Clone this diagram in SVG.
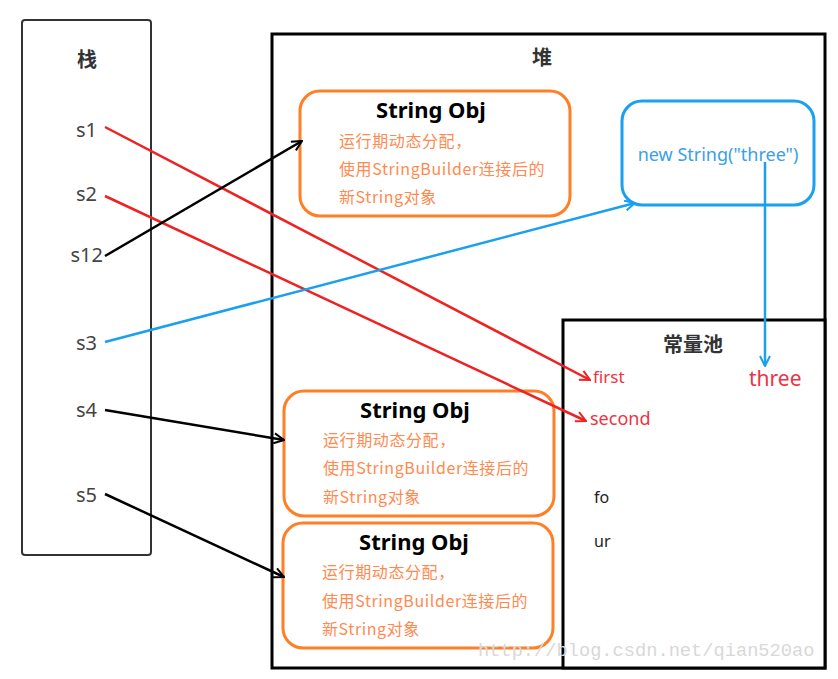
<svg xmlns="http://www.w3.org/2000/svg" width="838" height="679" viewBox="0 0 838 679">
<defs>
<style>
.lbl{font-family:"Noto Sans","Noto Sans CJK SC",sans-serif}
.title{font-family:"Noto Sans CJK SC","Noto Sans",sans-serif;font-weight:bold;font-size:20px;fill:#333;text-anchor:middle}
.var{font-family:"Noto Sans",sans-serif;font-size:20px;fill:#444;text-anchor:end}
.obj{fill:#fff;stroke:#ff7f27;stroke-width:3}
.objt{font-family:"Noto Sans",sans-serif;font-weight:bold;font-size:22px;fill:#000;text-anchor:middle}
.objd{font-family:"Noto Sans CJK SC","Noto Sans",sans-serif;font-size:16px;letter-spacing:0.6px;fill:#ff8a50}
.red{stroke:#ee2222;stroke-width:2.5;fill:none}
.blk{stroke:#000;stroke-width:2.5;fill:none}
.blu{stroke:#1aa0ee;stroke-width:2.5;fill:none}
</style>
<marker id="mr" viewBox="0 0 12 12" refX="11" refY="6" markerWidth="12" markerHeight="12" orient="auto" markerUnits="userSpaceOnUse">
<path d="M1,1 L11,6 L1,11" fill="none" stroke="#ee2222" stroke-width="2"/>
</marker>
<marker id="mk" viewBox="0 0 12 12" refX="11" refY="6" markerWidth="12" markerHeight="12" orient="auto" markerUnits="userSpaceOnUse">
<path d="M1,1 L11,6 L1,11" fill="none" stroke="#000" stroke-width="2"/>
</marker>
<marker id="mb" viewBox="0 0 12 12" refX="11" refY="6" markerWidth="12" markerHeight="12" orient="auto" markerUnits="userSpaceOnUse">
<path d="M1,1 L11,6 L1,11" fill="none" stroke="#1aa0ee" stroke-width="2"/>
</marker>
</defs>
<rect width="838" height="679" fill="#fff"/>

<g id="stack">
<rect x="22" y="20" width="129" height="535" rx="3" fill="#fff" stroke="#333" stroke-width="2"/>
<text class="title" x="87" y="67">栈</text>
<text class="var" x="97" y="137">s1</text>
<text class="var" x="97" y="201">s2</text>
<text class="var" x="103" y="262">s12</text>
<text class="var" x="97" y="350">s3</text>
<text class="var" x="97" y="417">s4</text>
<text class="var" x="97" y="502">s5</text>
</g>

<g id="heap">
<rect x="272" y="34" width="553" height="634" fill="none" stroke="#000" stroke-width="3"/>
<text class="title" x="542" y="65">堆</text>
</g>

<g id="pool">
<rect x="563" y="320" width="262" height="348" fill="#fff" stroke="#000" stroke-width="3"/>
<text class="title" x="693" y="352">常量池</text>
<text class="lbl" x="593" y="383" font-size="17" fill="#ee3344">first</text>
<text class="lbl" x="590" y="425" font-size="18" fill="#ee3344">second</text>
<text class="lbl" x="749" y="386" font-size="21" fill="#ee3344">three</text>
<text class="lbl" x="594" y="503" font-size="16" fill="#222">fo</text>
<text class="lbl" x="594" y="547" font-size="16" fill="#222">ur</text>
</g>

<g id="obj1">
<rect class="obj" x="300" y="91" width="270" height="125" rx="20"/>
<text class="objt" x="431" y="118">String Obj</text>
<text class="objd" x="339" y="147">运行期动态分配，</text>
<text class="objd" x="339" y="175">使用StringBuilder连接后的</text>
<text class="objd" x="339" y="203">新String对象</text>
</g>

<g id="obj2">
<rect class="obj" x="284" y="391" width="270" height="125" rx="20"/>
<text class="objt" x="415" y="418">String Obj</text>
<text class="objd" x="323" y="446">运行期动态分配，</text>
<text class="objd" x="323" y="474">使用StringBuilder连接后的</text>
<text class="objd" x="323" y="503">新String对象</text>
</g>

<g id="obj3">
<rect class="obj" x="283" y="523" width="270" height="125" rx="20"/>
<text class="objt" x="414" y="550">String Obj</text>
<text class="objd" x="322" y="578">运行期动态分配，</text>
<text class="objd" x="322" y="607">使用StringBuilder连接后的</text>
<text class="objd" x="322" y="635">新String对象</text>
</g>

<g id="newstr">
<rect x="622" y="101" width="192" height="104" rx="20" fill="#fff" stroke="#1aa0ee" stroke-width="3"/>
<text class="lbl" x="718" y="161" font-size="18" fill="#3aa0e8" text-anchor="middle">new String("three")</text>
</g>

<g id="connectors">
<line class="red" x1="105" y1="127" x2="590" y2="380" marker-end="url(#mr)"/>
<line class="red" x1="105" y1="196" x2="586" y2="421" marker-end="url(#mr)"/>
<line class="blk" x1="105" y1="256" x2="302" y2="141" marker-end="url(#mk)"/>
<line class="blu" x1="105" y1="342" x2="635" y2="203" marker-end="url(#mb)"/>
<line class="blk" x1="105" y1="410" x2="284" y2="440" marker-end="url(#mk)"/>
<line class="blk" x1="105" y1="494" x2="284" y2="577" marker-end="url(#mk)"/>
<line class="blu" x1="765" y1="162" x2="765" y2="366" marker-end="url(#mb)"/>
</g>

<text x="478" y="656" font-family="Liberation Mono, monospace" font-size="18.7" fill="#d8d8d8">http://blog.csdn.net/qian520ao</text>
</svg>
